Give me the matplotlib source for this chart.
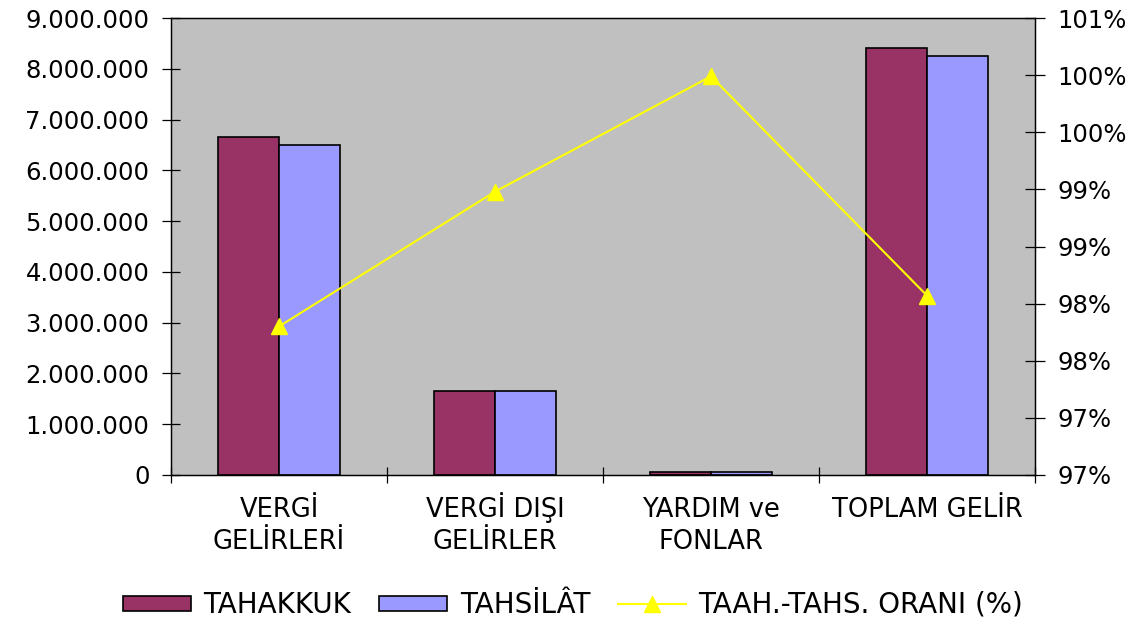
import matplotlib
matplotlib.use("Agg")
import matplotlib.pyplot as plt
from matplotlib.patches import Patch
from matplotlib.lines import Line2D
from matplotlib.ticker import FixedLocator, FuncFormatter
import math

# Data
categories = ["VERGİ\nGELİRLERİ", "VERGİ DIŞI\nGELİRLER", "YARDIM ve\nFONLAR", "TOPLAM GELİR"]
tahakkuk = [6662000, 1661000, 65000, 8409000]
tahsilat = [6499000, 1661000, 65000, 8257000]
oran = [97.80, 98.98, 99.99, 98.07]
left_ticks = [0, 1000000, 2000000, 3000000, 4000000, 5000000, 6000000, 7000000, 8000000, 9000000]
right_ticks = [96.5, 97.0, 97.5, 98.0, 98.5, 99.0, 99.5, 100.0, 100.5]
series_names = ["TAHAKKUK", "TAHSİLÂT", "TAAH.-TAHS. ORANI (%)"]

plt.rcParams["font.family"] = ["DejaVu Sans"]

C_BAR1 = "#993366"
C_BAR2 = "#9999FF"
C_LINE = "#FFFF00"
C_BG = "#C0C0C0"

W, H = 1146, 624
ax_left, ax_right, ax_top, ax_bottom = 171, 1035, 18, 475
fig = plt.figure(figsize=(W / 100, H / 100), dpi=100)
ax = fig.add_axes([ax_left / W, 1 - ax_bottom / H, (ax_right - ax_left) / W, (ax_bottom - ax_top) / H])
ax.set_facecolor(C_BG)

x = list(range(len(categories)))
w = 0.282
ax.bar([i - w / 2 for i in x], tahakkuk, width=w, color=C_BAR1, edgecolor="black", linewidth=1.2, zorder=2)
ax.bar([i + w / 2 for i in x], tahsilat, width=w, color=C_BAR2, edgecolor="black", linewidth=1.2, zorder=2)

ax.set_xlim(-0.5, len(categories) - 0.5)
ax.set_ylim(0, 9000000)
ax.yaxis.set_major_locator(FixedLocator(left_ticks))
ax.yaxis.set_major_formatter(FuncFormatter(lambda v, p: f"{int(v):,}".replace(",", ".")))
ax.tick_params(axis="y", direction="inout", length=13, width=0.9, labelsize=17.5, pad=9)

# Category labels: one text per line, placed on fixed baselines below the axis
ax.set_xticks([])
ax.set_xticks([i + 0.5 for i in range(-1, len(categories))], minor=True)
ax.tick_params(axis="x", which="minor", direction="inout", length=12, width=0.9, labelbottom=False)
ax_h = ax_bottom - ax_top
baselines = [-(517 - ax_bottom) / ax_h, -(549 - ax_bottom) / ax_h]
for i, label in enumerate(categories):
    for j, line in enumerate(label.split("\n")):
        ax.text(i, baselines[j], line, transform=ax.get_xaxis_transform(),
                ha="center", va="baseline", fontsize=18.5, clip_on=False)

for s in ax.spines.values():
    s.set_linewidth(0.9)
    s.set_color("black")

ax2 = ax.twinx()
ax2.plot(x, oran, color=C_LINE, linewidth=1.5, marker="^", markersize=11, markeredgecolor=C_LINE, zorder=3)
ax2.set_ylim(96.5, 100.5)
ax2.yaxis.set_major_locator(FixedLocator(right_ticks))
ax2.yaxis.set_major_formatter(FuncFormatter(lambda v, p: f"{int(math.floor(v + 0.5 + 1e-9))}%"))
ax2.tick_params(axis="y", direction="inout", length=14, width=0.9, labelsize=17.5, pad=9)
for s in ax2.spines.values():
    s.set_linewidth(0.9)
    s.set_color("black")

handles = [
    Patch(facecolor=C_BAR1, edgecolor="black", linewidth=1.2),
    Patch(facecolor=C_BAR2, edgecolor="black", linewidth=1.2),
    Line2D([0], [0], color=C_LINE, linewidth=1.5, marker="^", markersize=11, markeredgecolor=C_LINE),
]
fig.legend(handles, series_names, loc="center", bbox_to_anchor=(0.5, 1 - 605 / H),
           ncol=3, frameon=False, fontsize=20,
           handlelength=2.45, handleheight=0.45, handletextpad=0.45, columnspacing=1.0)

fig.savefig("out.png", dpi=100)
